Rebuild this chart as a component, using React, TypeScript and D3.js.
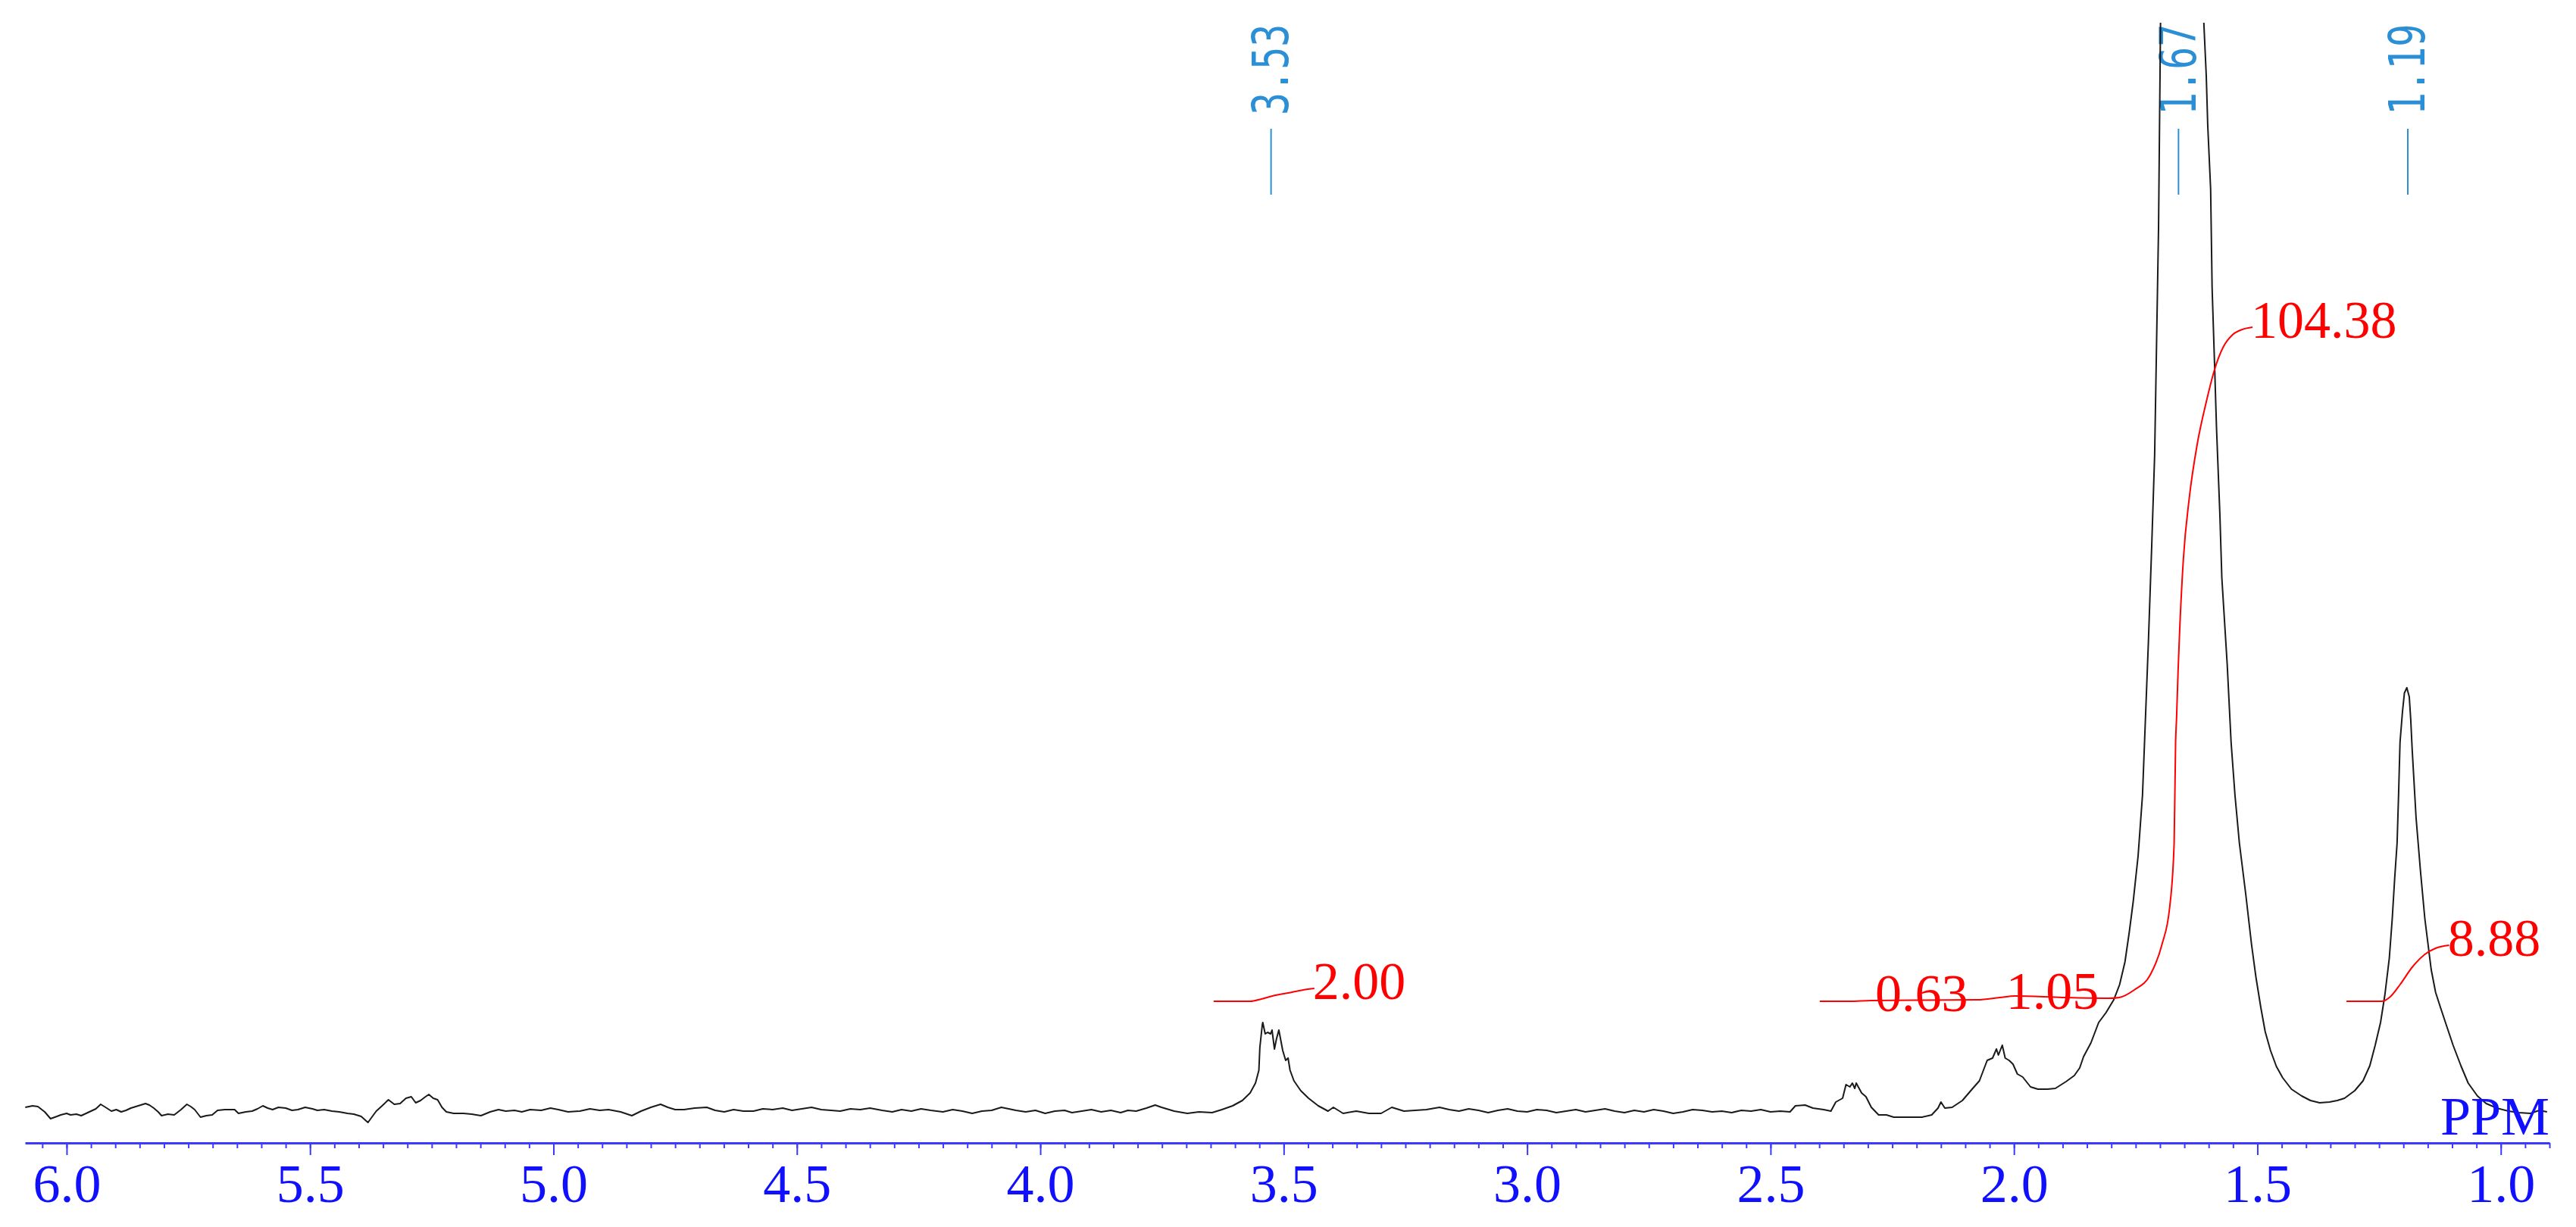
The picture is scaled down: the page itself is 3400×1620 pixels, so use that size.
import React, { useRef, useEffect } from 'react';
import * as d3 from 'd3';

// 1H NMR trace: [shift (ppm), intensity (arbitrary units)]
const baselineLow: [number, number][] = [
  [6.085, 6], [6.070, 8], [6.059, 7], [6.045, 0], [6.033, -9], [6.020, -6], [6.012, -4], [6.000, -2],
  [5.992, -4], [5.980, -3], [5.970, -5], [5.960, -2], [5.950, 1], [5.940, 4], [5.930, 10], [5.920, 6],
  [5.908, 1], [5.898, 3], [5.888, 0], [5.878, 2], [5.868, 5], [5.853, 8], [5.838, 11], [5.830, 9],
  [5.821, 5], [5.812, 0], [5.805, -5], [5.792, -3], [5.779, -4], [5.765, 3], [5.753, 10], [5.745, 7],
  [5.737, 3], [5.725, -7], [5.713, -5], [5.701, -4], [5.690, 2], [5.675, 3], [5.655, 3], [5.647, -2],
  [5.632, 0], [5.619, 1], [5.608, 4], [5.597, 8], [5.587, 5], [5.577, 3], [5.565, 6], [5.550, 5],
  [5.537, 2], [5.525, 3], [5.510, 6], [5.495, 4], [5.485, 2], [5.471, 3], [5.455, 1], [5.440, 0],
  [5.423, -2], [5.410, -3], [5.395, -6], [5.381, -14], [5.372, -6], [5.364, 1], [5.352, 8], [5.339, 16],
  [5.327, 10], [5.315, 11], [5.303, 18], [5.292, 20], [5.283, 12], [5.273, 15], [5.265, 19], [5.256, 23],
  [5.247, 18], [5.238, 16], [5.229, 6], [5.220, 0], [5.205, -2], [5.185, -2], [5.168, -3], [5.149, -5],
  [5.130, 0], [5.113, 3], [5.098, 1], [5.080, 2], [5.065, 0], [5.048, 3], [5.025, 2], [5.006, 5],
  [4.990, 3], [4.970, 0], [4.946, 1], [4.925, 4], [4.905, 2], [4.887, 3], [4.862, 0], [4.839, -5],
  [4.820, 1], [4.800, 6], [4.780, 10], [4.765, 6], [4.750, 3], [4.732, 3], [4.710, 5], [4.685, 6],
  [4.668, 2], [4.649, 0], [4.630, 3], [4.610, 1], [4.589, 1], [4.570, 4], [4.550, 3], [4.529, 5],
  [4.510, 2], [4.490, 4], [4.470, 6], [4.450, 3], [4.430, 2], [4.411, 1], [4.390, 4], [4.370, 3],
  [4.350, 5], [4.325, 2], [4.304, 0], [4.285, 3], [4.265, 1], [4.245, 4], [4.225, 2], [4.200, 0],
  [4.180, 3], [4.160, 1], [4.140, -2], [4.120, 1], [4.100, 2], [4.080, 6], [4.065, 4], [4.050, 2],
  [4.030, 0], [4.010, 2], [3.990, -2], [3.970, 1], [3.950, 2], [3.935, -1], [3.915, 1], [3.895, 3],
  [3.875, 0], [3.855, 2], [3.835, -1], [3.820, 2], [3.803, 1], [3.782, 5], [3.764, 9], [3.751, 6],
  [3.725, 1], [3.698, -2], [3.674, 0], [3.647, -1], [3.627, 3], [3.605, 8],
];

const peak353: [number, number][] = [
  [3.585, 15], [3.569, 25], [3.558, 38], [3.551, 55], [3.549, 85], [3.544, 115], [3.543, 118], [3.538, 103],
  [3.533, 105], [3.527, 103], [3.524, 108], [3.519, 83], [3.515, 96], [3.510, 108], [3.507, 98], [3.502, 81],
  [3.496, 68], [3.491, 71], [3.487, 55], [3.479, 41], [3.465, 28], [3.449, 18], [3.429, 8], [3.409, 1],
  [3.398, 6], [3.378, -2], [3.351, 1], [3.325, -2], [3.300, -2], [3.278, 6], [3.253, 1], [3.230, 2],
  [3.207, 3], [3.180, 6],
];

const baselineMid: [number, number][] = [
  [3.160, 3], [3.140, 1], [3.120, 4], [3.100, 2], [3.080, -1], [3.060, 2], [3.040, 4], [3.020, 1],
  [3.000, 0], [2.980, 3], [2.960, 2], [2.940, -1], [2.920, 1], [2.900, 3], [2.880, 0], [2.860, 2],
  [2.840, 4], [2.820, 1], [2.800, -1], [2.780, 2], [2.760, 0], [2.740, 3], [2.720, 1], [2.700, -2],
  [2.680, 0], [2.660, 3], [2.640, 2], [2.620, 0], [2.600, 1], [2.580, -1], [2.560, 2], [2.540, 1],
  [2.520, 3], [2.500, 0], [2.480, 1], [2.460, 0], [2.449, 8], [2.429, 9], [2.413, 5], [2.391, 3],
  [2.376, 1],
];

const peaksMid: [number, number][] = [
  [2.366, 13], [2.352, 18], [2.345, 36], [2.337, 33], [2.332, 38], [2.327, 31], [2.324, 38], [2.313, 25],
  [2.304, 20], [2.293, 6], [2.278, -4], [2.262, -4], [2.247, -7], [2.231, -7], [2.211, -7], [2.189, -7],
  [2.169, -4], [2.156, 5], [2.150, 13], [2.142, 5], [2.127, 6], [2.106, 15], [2.086, 30], [2.071, 41],
  [2.055, 68], [2.044, 71], [2.036, 83], [2.032, 75], [2.024, 88], [2.018, 71], [2.010, 68], [2.002, 63],
  [1.993, 50], [1.982, 46], [1.966, 33], [1.951, 30], [1.931, 30], [1.915, 31], [1.893, 40], [1.876, 48],
  [1.865, 58], [1.857, 73],
];

const peaksMain: [number, number][] = [
  [1.842, 91], [1.826, 118], [1.811, 131], [1.795, 148], [1.783, 168], [1.772, 198], [1.763, 238], [1.755, 278],
  [1.745, 338], [1.736, 418], [1.730, 518], [1.724, 618], [1.717, 748], [1.711, 868], [1.707, 1018], [1.703, 1168],
  [1.700, 1368], [1.697, 1568], [1.655, 2068], [1.615, 1568], [1.610, 1438], [1.605, 1368], [1.602, 1303], [1.596, 1218],
  [1.593, 1088], [1.588, 988], [1.584, 904], [1.577, 788], [1.573, 705], [1.562, 591], [1.554, 488], [1.546, 418],
  [1.537, 355], [1.524, 288], [1.512, 221], [1.503, 178], [1.493, 138], [1.484, 106], [1.473, 81], [1.461, 60],
  [1.448, 45], [1.430, 30], [1.409, 21], [1.391, 15], [1.372, 12], [1.352, 13], [1.336, 15], [1.321, 18],
  [1.300, 28], [1.283, 41], [1.269, 61], [1.258, 88], [1.247, 118], [1.238, 155], [1.229, 203], [1.223, 255],
  [1.218, 308], [1.213, 355], [1.210, 418], [1.207, 488], [1.202, 528], [1.198, 553], [1.193, 560], [1.188, 548],
  [1.185, 518], [1.182, 478], [1.174, 388], [1.165, 318], [1.156, 255], [1.143, 188], [1.134, 158], [1.124, 138],
  [1.110, 111], [1.098, 88], [1.082, 61], [1.067, 38], [1.048, 21], [1.030, 11], [1.008, 5], [0.984, 1],
  [0.963, -1], [0.939, -2], [0.921, 2], [0.905, 0],
];

// integral curves, same units
const integral353: [number, number][] = [
  [3.644, 146], [3.569, 146], [3.546, 149], [3.523, 153], [3.491, 157], [3.460, 161], [3.437, 163],
];
const integralMain: [number, number][] = [
  [2.399, 146], [2.340, 146], [2.293, 147], [2.075, 148], [2.029, 151], [1.998, 153], [1.900, 151], [1.806, 150],
  [1.784, 151], [1.753, 161], [1.720, 181], [1.696, 221], [1.680, 271], [1.671, 355], [1.668, 488], [1.666, 520],
  [1.663, 580], [1.660, 630], [1.652, 730], [1.640, 810], [1.624, 880], [1.604, 940], [1.588, 980], [1.570, 1010],
  [1.551, 1026], [1.531, 1033], [1.510, 1036],
];
const integral119: [number, number][] = [
  [1.317, 146], [1.244, 146], [1.227, 152], [1.207, 168], [1.182, 191], [1.156, 208], [1.134, 216], [1.106, 220],
];

const integralText = ['2.00', '0.63', '1.05', '104.38', '8.88'];
const integralPpm = [3.437, 2.282, 2.013, 1.510, 1.106];
const integralLevel = [163, 147, 150, 1036, 220];

const peakText = ['3.53', '1.67', '1.19'];
const peakPpm = [3.526, 1.662, 1.191];

const majorTicks = [6.0, 5.5, 5.0, 4.5, 4.0, 3.5, 3.0, 2.5, 2.0, 1.5, 1.0];

const WIDTH = 3400;
const HEIGHT = 1620;

const App = () => {
  const ref = useRef<SVGSVGElement>(null);

  useEffect(() => {
    const svg = d3.select(ref.current);
    svg.selectAll('*').remove();

    const x = d3.scaleLinear().domain([6.0855, 0.9]).range([33, 3365]);
    const y = d3.scaleLinear().domain([0, 1438]).range([1468, 30]);

    svg.append('rect').attr('width', WIDTH).attr('height', HEIGHT).attr('fill', '#fff');

    svg.append('defs').append('clipPath').attr('id', 'plot-clip')
      .append('rect').attr('x', 0).attr('y', 30).attr('width', WIDTH).attr('height', HEIGHT - 30);

    const line = d3.line<[number, number]>()
      .x(d => x(d[0]))
      .y(d => y(d[1]));

    // peak picking labels, written bottom-to-top
    peakPpm.forEach((p, i) => {
      const px = x(p);
      svg.append('line')
        .attr('x1', px).attr('x2', px)
        .attr('y1', 170).attr('y2', 257)
        .attr('stroke', '#2b8fd6').attr('stroke-width', 2);
      svg.append('text')
        .attr('transform', `translate(${px},152) rotate(-90) scale(1,1.3)`)
        .attr('dominant-baseline', 'central')
        .attr('font-family', '"DejaVu Sans Mono", monospace')
        .attr('font-size', 50)
        .attr('fill', '#2b8fd6')
        .text(peakText[i]);
    });

    // spectrum
    const spectrum = [...baselineLow, ...peak353, ...baselineMid, ...peaksMid, ...peaksMain];
    svg.append('path')
      .datum(spectrum)
      .attr('clip-path', 'url(#plot-clip)')
      .attr('d', line)
      .attr('fill', 'none')
      .attr('stroke', '#1a1a1a')
      .attr('stroke-width', 2)
      .attr('stroke-linejoin', 'round');

    // integrals
    const integralLine = d3.line<[number, number]>()
      .x(d => x(d[0]))
      .y(d => y(d[1]))
      .curve(d3.curveMonotoneX);
    [integral353, integralMain, integral119].forEach(curve => {
      svg.append('path')
        .datum(curve)
        .attr('d', integralLine)
        .attr('fill', 'none')
        .attr('stroke', '#ff0000')
        .attr('stroke-width', 2);
    });

    integralPpm.forEach((p, i) => {
      svg.append('text')
        .attr('x', x(p) - 2)
        .attr('y', y(integralLevel[i]) + 14)
        .attr('font-family', '"Liberation Serif", serif')
        .attr('font-size', 70)
        .attr('fill', '#ff0000')
        .text(integralText[i]);
    });

    // axis: minor ticks every 0.05 ppm, major every 0.5 ppm
    const axisColor = '#3a3aff';
    const minor = svg.append('g').attr('transform', 'translate(0,1509)')
      .call(d3.axisBottom(x).ticks(100).tickSize(7).tickSizeOuter(0).tickFormat(() => ''));
    minor.select('.domain').attr('stroke', axisColor).attr('stroke-width', 3);
    minor.selectAll('.tick line').attr('stroke', axisColor).attr('stroke-width', 2);

    const major = svg.append('g').attr('transform', 'translate(0,1509)')
      .call(d3.axisBottom(x).tickValues(majorTicks).tickSize(16).tickSizeOuter(0).tickPadding(11)
        .tickFormat(d => d3.format('.1f')(d as number)));
    major.select('.domain').remove();
    major.selectAll('.tick line').attr('stroke', axisColor).attr('stroke-width', 2);
    major.selectAll('.tick text')
      .attr('font-family', '"Liberation Serif", serif')
      .attr('font-size', 72)
      .attr('fill', '#1010ff');

    svg.append('text')
      .attr('x', 3365).attr('y', 1498)
      .attr('text-anchor', 'end')
      .attr('font-family', '"Liberation Serif", serif')
      .attr('font-size', 72)
      .attr('fill', '#1010ff')
      .text('PPM');
  }, []);

  return (
    <svg
      ref={ref}
      width={WIDTH}
      height={HEIGHT}
      style={{ position: 'absolute', left: 0, top: 0 }}
    />
  );
};

export default App;
